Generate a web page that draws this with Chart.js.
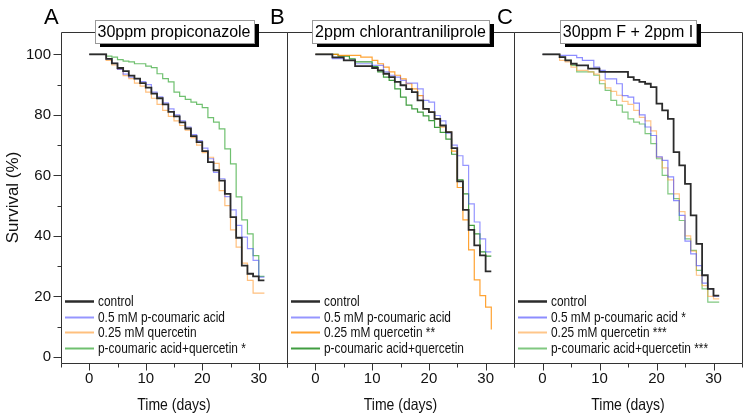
<!DOCTYPE html>
<html><head><meta charset="utf-8">
<script src="https://cdn.jsdelivr.net/npm/chart.js@4.4.0/dist/chart.umd.min.js"></script>
<style>
html,body{margin:0;padding:0;background:#fff;}
#wrap{position:relative;width:749px;height:419px;background:#fff;}
canvas{position:absolute;left:0;top:0;}
</style></head><body>
<div id="wrap">
<canvas id="cA" width="749" height="419"></canvas>
<canvas id="cB" width="749" height="419"></canvas>
<canvas id="cC" width="749" height="419"></canvas>
</div>
<script>
// ---------- data ----------
const days = [0,1,2,3,4,5,6,7,8,9,10,11,12,13,14,15,16,17,18,19,20,21,22,23,24,25,26,27,28,29,30,31];
const xMajorTicks = [0,10,20,30];
const xMinorTicks = [-5,5,15,25,35];
const yMajorTicks = [0,20,40,60,80,100];
const yMinorTicks = [10,30,50,70,90];

const panelLetters = ['A','B','C'];
const panelTitles = ['30ppm propiconazole','2ppm chlorantraniliprole','30ppm F + 2ppm I'];
const xTitle = 'Time (days)';
const yTitle = 'Survival (%)';
const legendA = ['control','0.5 mM p-coumaric acid','0.25 mM quercetin','p-coumaric acid+quercetin *'];
const legendB = ['control','0.5 mM p-coumaric acid','0.25 mM quercetin **','p-coumaric acid+quercetin'];
const legendC = ['control','0.5 mM p-coumaric acid *','0.25 mM quercetin ***','p-coumaric acid+quercetin ***'];

// Panel A (30ppm propiconazole) survival %
const A_control = [100,100,100,98.5,97,95.5,94.5,93,92,90.5,89,87,85.5,83.5,81,79.5,77.5,75.5,73,71,68,64.4,61.7,58.3,53.9,46.2,39.4,30.2,27.5,26.6,25.3,25.3];
const A_coumaric = [100,100,100,98.5,97,95,93.5,92.5,92,91,90,87.5,86,84,82,80,78,76,73.5,71.5,69,65.5,61,58.9,53,48.6,43.5,39.6,35.8,31.9,26.4,26.4];
const A_quercetin = [100,100,100,98,96.5,95,93,92,90.5,89.5,87.5,85.5,83.5,81.5,79.5,78,76.5,75,72.5,70,67.5,66,64,55,50,42,36.3,31,25.3,21.1,21.1,21.1];
const A_combo = [100,100,100,99.4,99.1,98.3,97.8,97.5,96.9,96.9,96.1,95.6,93.6,92,90.9,87.5,86.1,85.1,84.2,83.5,82.4,79.1,77.6,75.4,68.8,63.8,52.9,45.3,40.7,33.5,26.6,26.6];

// Panel B (2ppm chlorantraniliprole)
const B_control = [100,100,100,99,99,98,98,96.1,96.1,96.1,95.5,94.7,93.6,92.5,90.9,89.8,88.5,87.5,84.8,82,80.9,78.7,76.5,74.3,69,58,48.6,42,36.9,33.6,28.3,28.3];
const B_coumaric = [100,100,100,98.6,98.6,98,98,96.9,96.9,96.9,96.4,96.4,94.2,93.1,92.5,91.4,90.5,90.5,88.6,84.8,84.2,79.8,78,74,70,66.5,63.3,50.6,44.6,39,34.7,34.7];
const B_quercetin = [100,100,100,100,99.7,99.7,99.7,99.7,99.1,99.1,98,96.9,95.8,94.2,93.1,91.9,90.3,88.6,86.4,82,80.9,78.7,76,74.3,68,56,45.3,35.4,25.5,20.3,16.5,9.1];
const B_combo = [100,100,100,100,99.4,99.4,98.5,97.5,97.5,97.5,96,94.2,92.5,91.4,88.6,85.9,83.2,82,80.9,79.7,78.1,75.9,74.2,72,67,58.5,53.9,43.5,40.7,34.7,33.3,33.3];

// Panel C (30ppm F + 2ppm I)
const C_control = [100,100,100,99.1,98,96.9,96.4,96.4,95.3,95.3,94.2,94.2,94.2,94.2,94.2,92.5,91.6,90.9,90.3,89.2,83.7,81.5,78.7,67.7,63.3,57.2,46.8,37.4,27,22.5,20.3,20.3];
const C_coumaric = [100,100,100,99.7,99.7,99.7,98.9,98,98,95.8,94.7,91.9,91.9,90.3,86.4,85.9,83.9,80,76,73.2,66.1,65,59.5,51.7,46.8,38.3,34.1,30.2,24.4,22.5,20.1,20.1];
const C_quercetin = [100,100,100,98,97.5,95.8,94.7,94.7,94.2,93.5,91.4,88.9,87.8,86.5,84.5,83.5,81.5,79.2,78,74.7,66,62.5,58.5,53.9,48,40,35,27,23.6,20,19.2,19.2];
const C_combo = [100,100,100,99.1,98,96.4,94.2,94.2,94.2,93.1,90.3,88.1,84.8,83.2,80.9,78.7,77.6,77,73.8,70.5,65.5,60,53.9,52.3,45.1,39,35.2,28.6,22.5,18.1,18.1,18.1];

// ---------- helpers ----------
const FONT = "'Liberation Sans', Arial, sans-serif";
Chart.defaults.font.family = FONT;
Chart.defaults.color = '#111';

function pts(arr){ return days.map((d,i)=>({x:d, y:arr[i]})); }

function makeDatasets(ctrl, cou, que, com, cols){
  return [
    {label:'control', data:pts(ctrl), borderColor:'#2b2b2b', borderWidth:1.8},
    {label:'coumaric', data:pts(cou), borderColor:cols[0], borderWidth:1.2},
    {label:'quercetin', data:pts(que), borderColor:cols[1], borderWidth:1.2},
    {label:'combo', data:pts(com), borderColor:cols[2], borderWidth:1.2}
  ].map(d=>Object.assign(d,{stepped:'before', pointRadius:0, fill:false, tension:0}));
}

function condensedText(ctx, txt, x, y, size, sx, align){
  ctx.save();
  ctx.translate(x, y);
  ctx.scale(sx, 1);
  ctx.font = size+'px '+FONT;
  ctx.textBaseline = 'middle';
  ctx.textAlign = align;
  ctx.fillStyle = '#111';
  ctx.fillText(txt, 0, 0);
  ctx.restore();
}

function decor(idx, legendLabels, showY){
  return {
    id:'decor'+idx,
    afterDatasetsDraw(chart){
      const {ctx, chartArea:a, scales} = chart;
      const L = Math.round(a.left)+0.5, R = Math.round(a.right)+0.5, T = Math.round(a.top)+0.5, B = Math.round(a.bottom)+0.5;
      ctx.save();
      ctx.strokeStyle = '#333'; ctx.lineWidth = 1;
      ctx.beginPath();
      ctx.moveTo(L,T); ctx.lineTo(R,T); ctx.lineTo(R,B); ctx.lineTo(L,B); ctx.closePath();
      ctx.stroke();
      // x tick marks
      const xs = scales.x;
      ctx.beginPath();
      xMajorTicks.forEach(v=>{ const p=Math.round(xs.getPixelForValue(v))+0.5; ctx.moveTo(p,B); ctx.lineTo(p,B+7); });
      xMinorTicks.forEach(v=>{ const p=Math.round(xs.getPixelForValue(v))+0.5; ctx.moveTo(p,B); ctx.lineTo(p,B+4); });
      if(showY){
        const ys = scales.y;
        yMajorTicks.forEach(v=>{ const p=Math.round(ys.getPixelForValue(v))+0.5; ctx.moveTo(L,p); ctx.lineTo(L-8,p); });
        yMinorTicks.forEach(v=>{ const p=Math.round(ys.getPixelForValue(v))+0.5; ctx.moveTo(L,p); ctx.lineTo(L-4,p); });
      }
      ctx.stroke();
      // x axis title (condensed)
      condensedText(ctx, xTitle, (a.left+a.right)/2, 405, 16.5, 0.85, 'center');
      // legend (condensed text)
      const ds = chart.data.datasets;
      legendLabels.forEach((lab,i)=>{
        const y = Math.round(a.bottom - 62 + i*15.7);
        ctx.strokeStyle = ds[i].borderColor;
        ctx.lineWidth = i===0 ? 2.5 : 2;
        ctx.beginPath(); ctx.moveTo(a.left+4, y+0.5); ctx.lineTo(a.left+33, y+0.5); ctx.stroke();
        condensedText(ctx, lab, a.left+37, y+1, 14, 0.85, 'left');
      });
      // title box
      const title = panelTitles[idx];
      ctx.font = '16px '+FONT;
      ctx.textBaseline = 'middle';
      const tw = ctx.measureText(title).width;
      const bw = Math.round(tw + 6), bh = 23;
      const cx = (a.left + a.right)/2;
      const bx = Math.round(cx - bw/2), by = 20;
      ctx.fillStyle = '#000';
      ctx.fillRect(bx+5, by+4, bw, bh);
      ctx.fillStyle = '#fff';
      ctx.fillRect(bx, by, bw, bh);
      ctx.strokeStyle = '#999'; ctx.lineWidth = 1;
      ctx.strokeRect(bx+0.5, by+0.5, bw, bh);
      ctx.fillStyle = '#000';
      ctx.textAlign = 'center';
      ctx.fillText(title, cx, by + bh/2 + 1);
      // panel letter
      ctx.font = '22px '+FONT;
      ctx.textAlign = 'left';
      ctx.textBaseline = 'alphabetic';
      ctx.fillText(panelLetters[idx], a.left - 17, 24);
      ctx.restore();
    }
  };
}

function makeChart(id, idx, datasets, legendLabels, padL, padR, showY){
  const xScale = {
    type:'linear', min:-5, max:35, bounds:'data',
    afterBuildTicks: s => { s.ticks = xMajorTicks.map(v=>({value:v})); },
    afterFit: s => { s.height = 56; },
    grid:{drawOnChartArea:false, drawTicks:true, tickLength:6, color:'rgba(0,0,0,0)'},
    border:{display:false},
    ticks:{font:{size:15}, padding:1, color:'#111', autoSkip:false, maxRotation:0},
    title:{display:false}
  };
  const yScale = {
    type:'linear', min:-2, max:107.4, bounds:'data', display: showY,
    afterBuildTicks: s => { s.ticks = yMajorTicks.map(v=>({value:v})); },
    grid:{drawOnChartArea:false, drawTicks:true, tickLength:6, color:'rgba(0,0,0,0)'},
    border:{display:false},
    ticks:{font:{size:15}, padding:4, color:'#111', autoSkip:false},
    title:{display:true, text:yTitle, font:{size:17}, color:'#111', padding:{top:3,bottom:0}}
  };
  if(showY) yScale.afterFit = s => { s.width = 61; };
  return new Chart(document.getElementById(id), {
    type:'line',
    data:{datasets},
    options:{
      responsive:false, animation:false, devicePixelRatio:1,
      layout:{padding:{left:padL, right:padR, top:32, bottom:0}},
      plugins:{legend:{display:false}, tooltip:{enabled:false}},
      scales:{x:xScale, y:yScale}
    },
    plugins:[decor(idx, legendLabels, showY)]
  });
}

const colsA = ['rgba(80,80,255,0.6)','rgba(255,150,40,0.6)','rgba(50,165,50,0.7)'];
const colsB = ['rgba(80,80,255,0.6)','rgba(255,140,0,0.8)','rgba(30,140,30,0.85)'];
const colsC = ['rgba(80,80,255,0.65)','rgba(255,160,60,0.6)','rgba(60,170,60,0.65)'];

makeChart('cA', 0, makeDatasets(A_control,A_coumaric,A_quercetin,A_combo,colsA), legendA, 0, 749-287, true);
makeChart('cB', 1, makeDatasets(B_control,B_coumaric,B_quercetin,B_combo,colsB), legendB, 287, 749-514, false);
makeChart('cC', 2, makeDatasets(C_control,C_coumaric,C_quercetin,C_combo,colsC), legendC, 514, 749-742, false);
</script>
</body></html>
